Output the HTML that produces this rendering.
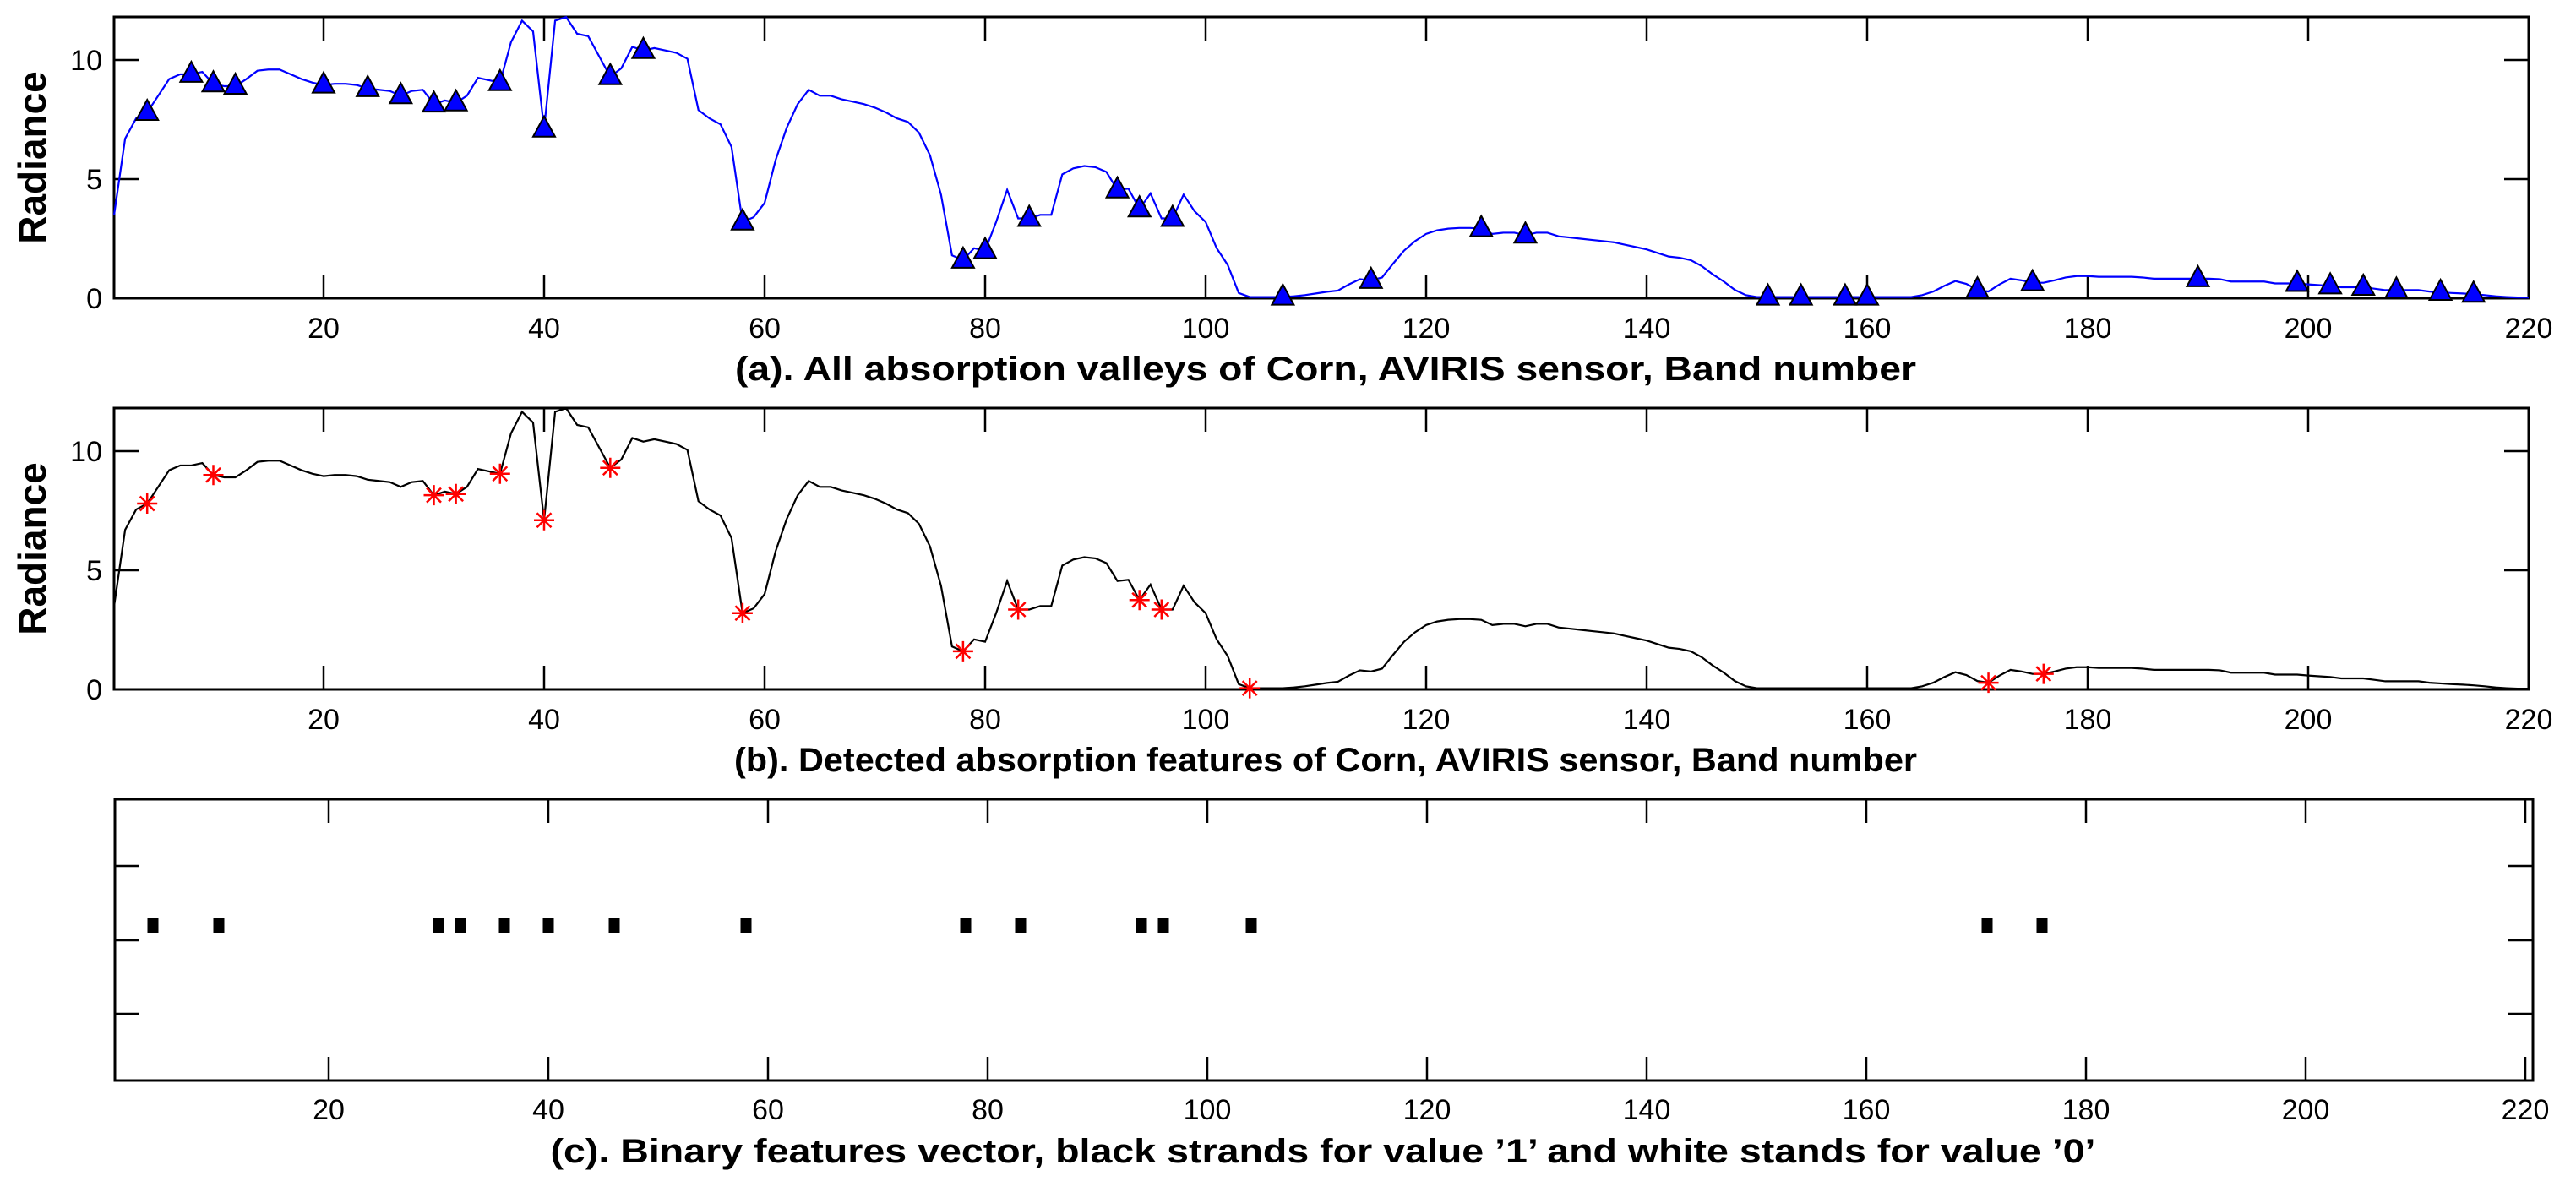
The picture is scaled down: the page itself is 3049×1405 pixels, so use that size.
<!DOCTYPE html>
<html><head><meta charset="utf-8"><style>
html,body{margin:0;padding:0;background:#fff;}
svg{display:block;font-family:"Liberation Sans",Arial,sans-serif;}
</style></head><body>
<svg id="fig" width="3049" height="1405" viewBox="0 0 3049 1405" xmlns="http://www.w3.org/2000/svg"></svg>
<script>
const radiance = [3.5,6.7,7.55,7.8,8.5,9.2,9.4,9.4,9.5,9.0,8.9,8.9,9.2,9.55,9.6,9.6,9.4,9.2,9.05,8.95,
9.0,9.0,8.95,8.8,8.75,8.7,8.5,8.7,8.75,8.15,8.3,8.2,8.5,9.25,9.15,9.05,10.75,11.65,11.2,7.1,
11.65,11.8,11.1,11.0,10.15,9.3,9.65,10.55,10.4,10.5,10.4,10.3,10.05,7.9,7.55,7.3,6.35,3.2,3.4,4.0,
5.8,7.15,8.15,8.75,8.5,8.5,8.35,8.25,8.15,8.0,7.8,7.55,7.4,6.95,6.0,4.35,1.8,1.6,2.1,2.0,
3.2,4.55,3.35,3.35,3.5,3.5,5.2,5.45,5.55,5.5,5.3,4.55,4.6,3.75,4.4,3.35,3.35,4.35,3.65,3.2,
2.1,1.4,0.22,0.05,0.05,0.05,0.05,0.08,0.13,0.2,0.27,0.32,0.58,0.8,0.75,0.87,1.45,2.0,2.4,2.7,
2.85,2.92,2.95,2.95,2.92,2.7,2.75,2.75,2.65,2.75,2.75,2.6,2.55,2.5,2.45,2.4,2.35,2.25,2.15,2.05,
1.9,1.75,1.7,1.6,1.35,1.0,0.7,0.35,0.13,0.05,0.05,0.05,0.05,0.05,0.05,0.05,0.05,0.05,0.05,0.05,
0.05,0.05,0.05,0.05,0.13,0.28,0.52,0.72,0.6,0.35,0.28,0.58,0.82,0.75,0.65,0.65,0.75,0.87,0.93,0.93,
0.9,0.9,0.9,0.9,0.87,0.82,0.82,0.82,0.82,0.82,0.82,0.8,0.7,0.7,0.7,0.7,0.62,0.62,0.62,0.58,
0.55,0.52,0.46,0.46,0.46,0.4,0.34,0.34,0.34,0.34,0.28,0.25,0.22,0.2,0.17,0.13,0.08,0.05,0.03,0.03];
const valleyBands = [4,8,10,12,20,24,27,30,32,36,40,46,49,58,78,80,84,92,94,97,107,115,125,129,151,154,158,160,170,175,190,199,202,205,208,212,215];
const featureBands = [4,10,30,32,36,40,46,58,78,83,94,96,104,171,176];
const xTicks = [20,40,60,80,100,120,140,160,180,200,220];
const yTicks = [0,5,10];

const NS="http://www.w3.org/2000/svg";
const svg=document.getElementById('fig');
function mk(tag,attrs,parent){const e=document.createElementNS(NS,tag);for(const k in attrs)e.setAttribute(k,attrs[k]);(parent||svg).appendChild(e);return e;}

const xAB = v => 383 + (v-20)*13.05;
const xC = v => 389 + (v-20)*13.0;
const L=135, R=2993;
function panel(name, top, bottom, caption, capLen){
  const g=mk('g',{});
  
  
  const y = v => bottom - v*28.2;
  const box=mk('rect',{x:L,y:top,width:R-L,height:bottom-top,fill:'none',stroke:'#000','stroke-width':3},g);
  
  
  xTicks.forEach(t=>{
    const x=xAB(t);
    mk('line',{x1:x,y1:bottom,x2:x,y2:bottom-28,stroke:'#000','stroke-width':2.5},g);
    mk('line',{x1:x,y1:top,x2:x,y2:top+28,stroke:'#000','stroke-width':2.5},g);
    const tx=mk('text',{x:x,y:bottom+47,'font-size':34,'text-anchor':'middle'},g);
    tx.textContent=t;
    
    
  });
  yTicks.forEach(t=>{
    const yy=y(t);
    mk('line',{x1:L,y1:yy,x2:L+29,y2:yy,stroke:'#000','stroke-width':2.5},g);
    mk('line',{x1:R,y1:yy,x2:R-29,y2:yy,stroke:'#000','stroke-width':2.5},g);
    const tx=mk('text',{x:121,y:yy+12,'font-size':34,'text-anchor':'end'},g);
    tx.textContent=t;
    
    
  });
  const yl=mk('text',{x:0,y:0,'font-size':46,'font-weight':'bold','text-anchor':'middle',transform:`translate(54,${(top+bottom)/2}) rotate(-90)`},g);
  yl.textContent='Radiance';
  
  
  const cp=mk('text',{x:1569,y:bottom+97,'font-size':40,'font-weight':'bold','text-anchor':'middle',textLength:capLen,lengthAdjust:'spacingAndGlyphs'},g);
  cp.textContent=caption;
  
  
  return {g,y};
}

const pa=panel('panel-a',20,353,'(a). All absorption valleys of Corn, AVIRIS sensor, Band number',1398);
const lineA=mk('polyline',{points:radiance.map((v,i)=>xAB(i+1)+','+pa.y(v)).join(' '),fill:'none',stroke:'#0000ff','stroke-width':2.2},pa.g);


valleyBands.forEach(b=>{
  const x=xAB(b), yy=pa.y(radiance[b-1]);
  const t=mk('polygon',{points:`${x},${yy-15} ${x-13},${yy+9} ${x+13},${yy+9}`,fill:'#0000ff',stroke:'#000','stroke-width':2},pa.g);
  
  
});

const pb=panel('panel-b',483,816,'(b). Detected absorption features of Corn, AVIRIS sensor, Band number',1400);
const lineB=mk('polyline',{points:radiance.map((v,i)=>xAB(i+1)+','+pb.y(v)).join(' '),fill:'none',stroke:'#000','stroke-width':2.2},pb.g);


featureBands.forEach(b=>{
  const x=xAB(b), yy=pb.y(radiance[b-1]);
  const s=mk('path',{d:`M${x-12},${yy}H${x+12}M${x},${yy-12}V${yy+12}M${x-8.5},${yy-8.5}L${x+8.5},${yy+8.5}M${x-8.5},${yy+8.5}L${x+8.5},${yy-8.5}`,stroke:'#ff0000','stroke-width':2.5,fill:'none'},pb.g);
  
  
});

const gc=mk('g',{});


const cT=946, cB=1279, cL=136, cR=2998;
const cf=mk('rect',{x:cL,y:cT,width:cR-cL,height:cB-cT,fill:'none',stroke:'#000','stroke-width':3},gc);


xTicks.forEach(t=>{
  const x=xC(t);
  mk('line',{x1:x,y1:cB,x2:x,y2:cB-28,stroke:'#000','stroke-width':2.5},gc);
  mk('line',{x1:x,y1:cT,x2:x,y2:cT+28,stroke:'#000','stroke-width':2.5},gc);
  const tx=mk('text',{x:x,y:cB+46,'font-size':34,'text-anchor':'middle'},gc);
  tx.textContent=t;
  
  
});
[1025,1113,1200].forEach(yy=>{
  mk('line',{x1:cL,y1:yy,x2:cL+29,y2:yy,stroke:'#000','stroke-width':2.5},gc);
  mk('line',{x1:cR,y1:yy,x2:cR-29,y2:yy,stroke:'#000','stroke-width':2.5},gc);
});
featureBands.forEach(b=>{
  const r=mk('rect',{x:xC(b)-6.5,y:1087,width:13,height:17,fill:'#000'},gc);
  
  
});
const cc=mk('text',{x:1566,y:1376,'font-size':40,'font-weight':'bold','text-anchor':'middle',textLength:1829,lengthAdjust:'spacingAndGlyphs'},gc);
cc.textContent='(c). Binary features vector, black strands for value \u20191\u2019 and white stands for value \u20190\u2019';


</script>
</body></html>
